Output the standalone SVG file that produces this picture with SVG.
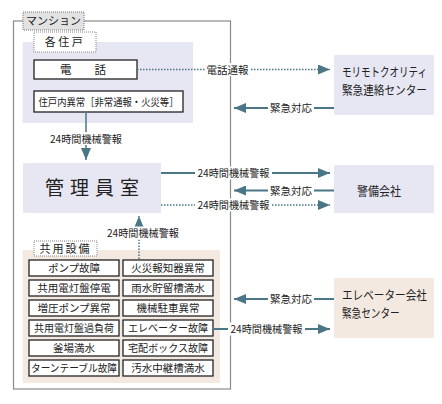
<svg xmlns="http://www.w3.org/2000/svg" width="442" height="404" viewBox="0 0 442 404">
<defs>
<style>
text{font-family:"Noto Sans CJK JP","Noto Sans",sans-serif;fill:#222;}
.lav{fill:#e7e6f3;}
.beige{fill:#f3e9e1;}
.cell{fill:#fff;stroke:#222;stroke-width:1.3;}
.ct{font-size:10.5px;text-anchor:middle;}
.lbl{font-size:10.5px;text-anchor:middle;}
.solid{stroke:#4b7686;stroke-width:2;fill:none;}
.thin{stroke:#4b7686;stroke-width:1.5;fill:none;}
.dot{stroke:#4b7686;stroke-width:1.5;fill:none;stroke-dasharray:1.5 1.5;}
.big{font-size:12.5px;}
.wb{fill:#fff;}
</style>
<marker id="ah" markerUnits="userSpaceOnUse" markerWidth="12" markerHeight="10" refX="12" refY="5" orient="auto">
<path d="M0,0 L12,5 L0,10 Z" fill="#4b7686"/>
</marker>
</defs>

<g id="mansion">
<rect x="13.5" y="21" width="217" height="368" fill="#fff" stroke="#8a8a8a" stroke-width="1.2"/>
<rect x="23" y="12" width="61" height="18" fill="#e2e2e2" stroke="#777" stroke-width="1" stroke-dasharray="1 1"/>
<text x="53.5" y="25" font-size="11" text-anchor="middle">マンション</text>
</g>

<g id="kakujuko">
<rect class="lav" x="22.7" y="42" width="170.3" height="81"/>
<rect x="34" y="32" width="62" height="20" fill="#fff" stroke="#888" stroke-width="1" stroke-dasharray="1 1"/>
<text x="65" y="46" font-size="11" text-anchor="middle" letter-spacing="2.5">各住戸</text>
</g>

<g id="denwa">
<rect class="cell" x="34" y="60" width="103" height="19"/>
<text x="83" y="73.5" font-size="11.5" text-anchor="middle">電　　話</text>
</g>

<g id="ijou">
<rect class="cell" x="34" y="91" width="149" height="21"/>
<text x="108.5" y="105.5" font-size="10.5" text-anchor="middle" textLength="140" lengthAdjust="spacingAndGlyphs">住戸内異常［非常通報・火災等］</text>
</g>

<g id="kanri">
<rect class="lav" x="23" y="163" width="138" height="50"/>
<text x="95" y="195" font-size="19" text-anchor="middle" letter-spacing="6">管理員室</text>
</g>

<g id="kyoyo">
<rect class="beige" x="22.7" y="250" width="197.3" height="133"/>
<rect x="34" y="241" width="63" height="15" fill="#fff" stroke="#888" stroke-width="1" stroke-dasharray="1 1"/>
<text x="65.5" y="252.5" font-size="11" text-anchor="middle" letter-spacing="2">共用設備</text>
<rect class="cell" x="29" y="260" width="90" height="16"/>
<text class="ct" x="74" y="272">ポンプ故障</text>
<rect class="cell" x="123" y="260" width="90" height="16"/>
<text class="ct" x="168" y="272">火災報知器異常</text>
<rect class="cell" x="29" y="280" width="90" height="16"/>
<text class="ct" x="74" y="292">共用電灯盤停電</text>
<rect class="cell" x="123" y="280" width="90" height="16"/>
<text class="ct" x="168" y="292">雨水貯留槽満水</text>
<rect class="cell" x="29" y="300" width="90" height="16"/>
<text class="ct" x="74" y="312">増圧ポンプ異常</text>
<rect class="cell" x="123" y="300" width="90" height="16"/>
<text class="ct" x="168" y="312">機械駐車異常</text>
<rect class="cell" x="29" y="320" width="90" height="16"/>
<text class="ct" x="74" y="332" textLength="80" lengthAdjust="spacingAndGlyphs">共用電灯盤過負荷</text>
<rect class="cell" x="123" y="320" width="90" height="16"/>
<text class="ct" x="168" y="332" textLength="80" lengthAdjust="spacingAndGlyphs">エレベーター故障</text>
<rect class="cell" x="29" y="340" width="90" height="16"/>
<text class="ct" x="74" y="352">釜場満水</text>
<rect class="cell" x="123" y="340" width="90" height="16"/>
<text class="ct" x="168" y="352" textLength="80" lengthAdjust="spacingAndGlyphs">宅配ボックス故障</text>
<rect class="cell" x="29" y="360" width="90" height="16"/>
<text class="ct" x="74" y="372" textLength="86" lengthAdjust="spacingAndGlyphs">ターンテーブル故障</text>
<rect class="cell" x="123" y="360" width="90" height="16"/>
<text class="ct" x="168" y="372">汚水中継槽満水</text>
</g>

<g id="morimoto">
<rect class="lav" x="334" y="55" width="100" height="60"/>
<text class="big" transform="translate(342,76.5) scale(0.76,1)">モリモトクオリティ</text>
<text class="big" transform="translate(342,95) scale(0.85,1)">緊急連絡センター</text>
</g>

<g id="keibi">
<rect class="lav" x="334" y="165" width="100" height="48"/>
<text class="big" x="379" y="196" text-anchor="middle" textLength="44" lengthAdjust="spacingAndGlyphs">警備会社</text>
</g>

<g id="elevator">
<rect class="beige" x="334" y="278" width="100" height="60"/>
<text class="big" transform="translate(342,299.5) scale(0.85,1)">エレベーター会社</text>
<text class="big" transform="translate(342,318) scale(0.77,1)">緊急センター</text>
</g>

<g id="connectors">
<line class="dot" x1="137" y1="69.5" x2="330" y2="69.5" marker-end="url(#ah)"/>
<rect class="wb" x="205" y="63" width="45" height="13"/>
<text class="lbl" x="227.5" y="73.5">電話通報</text>
<line class="solid" x1="334" y1="108" x2="234" y2="108" marker-end="url(#ah)"/>
<rect class="wb" x="268" y="101.5" width="46" height="13"/>
<text class="lbl" x="291" y="112">緊急対応</text>
<line class="thin" x1="86" y1="112" x2="86" y2="160" marker-end="url(#ah)"/>
<rect class="wb" x="48" y="132" width="76" height="13"/>
<text class="lbl" x="86" y="142.5" textLength="72" lengthAdjust="spacingAndGlyphs">24時間機械警報</text>
<line class="solid" x1="161" y1="173" x2="330" y2="173" marker-end="url(#ah)"/>
<rect class="wb" x="195" y="166.5" width="77" height="13"/>
<text class="lbl" x="233.5" y="177" textLength="72" lengthAdjust="spacingAndGlyphs">24時間機械警報</text>
<line class="solid" x1="334" y1="190.5" x2="234" y2="190.5" marker-end="url(#ah)"/>
<rect class="wb" x="268" y="184" width="46" height="13"/>
<text class="lbl" x="291" y="194.5">緊急対応</text>
<line class="dot" x1="161" y1="205" x2="330" y2="205" marker-end="url(#ah)"/>
<rect class="wb" x="195" y="198.5" width="77" height="13"/>
<text class="lbl" x="233.5" y="209" textLength="72" lengthAdjust="spacingAndGlyphs">24時間機械警報</text>
<line class="dot" x1="139" y1="259" x2="139" y2="216" marker-end="url(#ah)"/>
<rect class="wb" x="103" y="226.5" width="80" height="13"/>
<text class="lbl" x="143" y="237" textLength="72" lengthAdjust="spacingAndGlyphs">24時間機械警報</text>
<line class="solid" x1="334" y1="299" x2="234" y2="299" marker-end="url(#ah)"/>
<rect class="wb" x="268" y="292.5" width="46" height="13"/>
<text class="lbl" x="291" y="303">緊急対応</text>
<line class="solid" x1="213" y1="329" x2="330" y2="329" marker-end="url(#ah)"/>
<rect class="wb" x="228" y="322.5" width="77" height="13"/>
<text class="lbl" x="266.5" y="333" textLength="72" lengthAdjust="spacingAndGlyphs">24時間機械警報</text>
</g>
</svg>
